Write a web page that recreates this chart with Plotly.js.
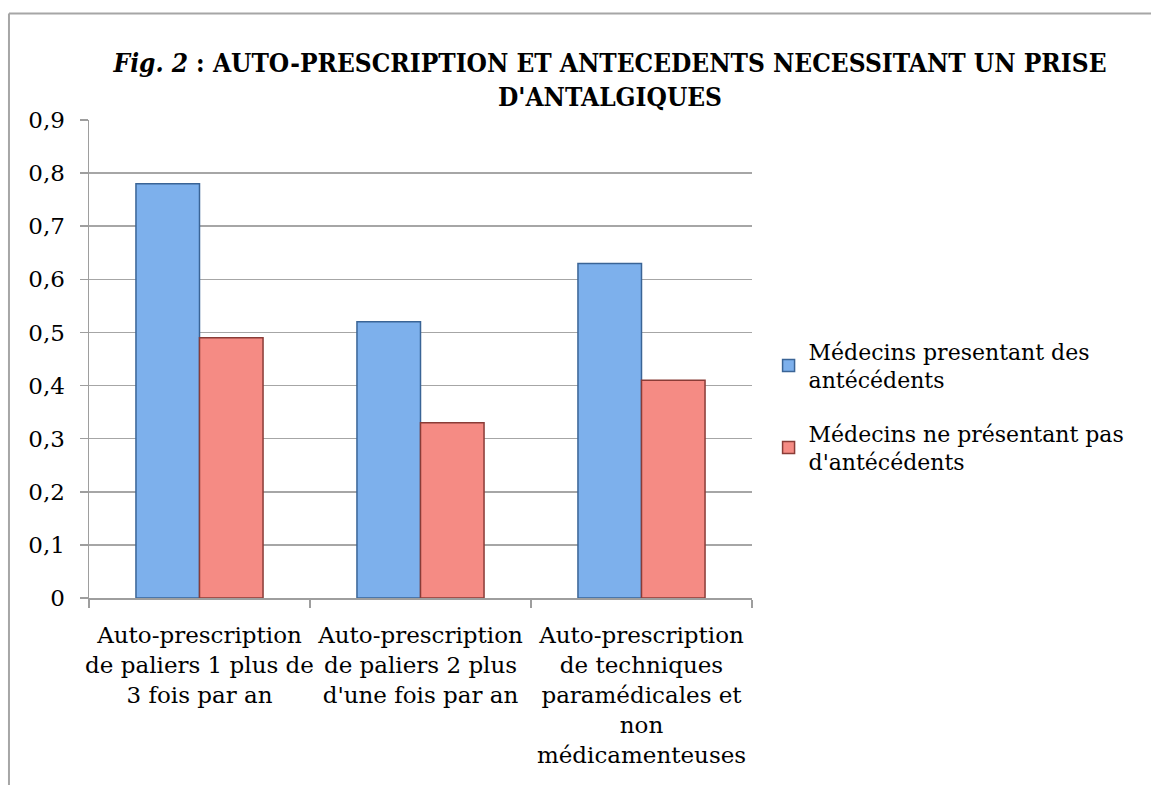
<!DOCTYPE html>
<html>
<head>
<meta charset="utf-8">
<script src="https://cdn.plot.ly/plotly-3.0.1.min.js"></script>
<style>html,body{margin:0;padding:0;background:#fff;}#chart{width:1151px;height:785px;}</style>
</head>
<body>
<div id="chart"></div>
<script>
const categories = [
  "Auto-prescription<br>de paliers 1 plus de<br>3 fois par an",
  "Auto-prescription<br>de paliers 2 plus<br>d'une fois par an",
  "Auto-prescription<br>de techniques<br>paramédicales et<br>non<br>médicamenteuses"
];
const seriesNames = [
  "Médecins presentant des<br>antécédents",
  "Médecins ne présentant pas<br>d'antécédents"
];
const avecAntecedents = [0.78, 0.52, 0.63];
const sansAntecedents = [0.49, 0.33, 0.41];
const yTicks = [0, 0.1, 0.2, 0.3, 0.4, 0.5, 0.6, 0.7, 0.8, 0.9];
const yTickText = ["0", "0,1", "0,2", "0,3", "0,4", "0,5", "0,6", "0,7", "0,8", "0,9"];

const FONT = "DejaVu Serif, Liberation Serif, serif";
const TFONT = "DejaVu Serif Condensed, DejaVu Serif, serif";

const traces = [
  {
    type: "bar", name: seriesNames[0], x: categories, y: avecAntecedents,
    legendgroup: "g1",
    marker: {color: "#7db0ec", line: {color: "#3a6496", width: 1.5}},
    hoverinfo: "y"
  },
  {
    type: "bar", name: seriesNames[1], x: categories, y: sansAntecedents,
    legendgroup: "g2",
    marker: {color: "#f58b84", line: {color: "#8a3c37", width: 1.5}},
    hoverinfo: "y"
  }
];

const layout = {
  width: 1151, height: 785,
  paper_bgcolor: "#ffffff", plot_bgcolor: "#ffffff",
  margin: {l: 89, r: 399, t: 120, b: 187},
  font: {family: FONT, size: 23, color: "#000000"},
  title: {
    text: "<b><i>Fig. 2</i> : AUTO-PRESCRIPTION ET ANTECEDENTS NECESSITANT UN PRISE<br>D'ANTALGIQUES</b>",
    x: 0.53, xanchor: "center", xref: "container",
    y: 0.908, yanchor: "top", yref: "container",
    font: {family: TFONT, size: 26, color: "#000000"}
  },
  barmode: "group",
  bargap: 0.425,
  bargroupgap: 0,
  xaxis: {
    type: "category",
    showline: true, linecolor: "#9e9e9e", linewidth: 1.5,
    ticks: "outside", tickson: "boundaries", ticklen: 8, tickcolor: "#9e9e9e", tickwidth: 1.5,
    tickfont: {family: FONT, size: 23, color: "#000000"},
    ticklabelstandoff: 16,
    showgrid: false, zeroline: false, automargin: false, tickangle: 0
  },
  yaxis: {
    range: [0, 0.9],
    tickvals: yTicks, ticktext: yTickText,
    showline: true, linecolor: "#9e9e9e", linewidth: 1.5,
    ticks: "outside", ticklen: 8, tickcolor: "#9e9e9e", tickwidth: 1.5,
    ticklabelstandoff: 10,
    showgrid: true, gridcolor: "#a6a6a6", gridwidth: 1.5,
    zeroline: false,
    tickfont: {family: FONT, size: 23, color: "#000000"},
    automargin: false
  },
  legend: {
    x: 1.025, xanchor: "left", y: 0.56, yanchor: "top",
    font: {family: FONT, size: 22, color: "#000000"},
    tracegroupgap: 22, bgcolor: "rgba(0,0,0,0)",
    itemwidth: 30
  },
  shapes: [
    {type: "line", xref: "paper", yref: "paper", x0: -0.1207, x1: -0.1207, y0: -0.45, y1: 1.2228,
     line: {color: "#a6a6a6", width: 2}},
    {type: "line", xref: "paper", yref: "paper", x0: -0.1207, x1: 1.7, y0: 1.2228, y1: 1.2228,
     line: {color: "#a6a6a6", width: 2}}
  ]
};

Plotly.newPlot("chart", traces, layout, {displayModeBar: false, staticPlot: true});
</script>
</body>
</html>
